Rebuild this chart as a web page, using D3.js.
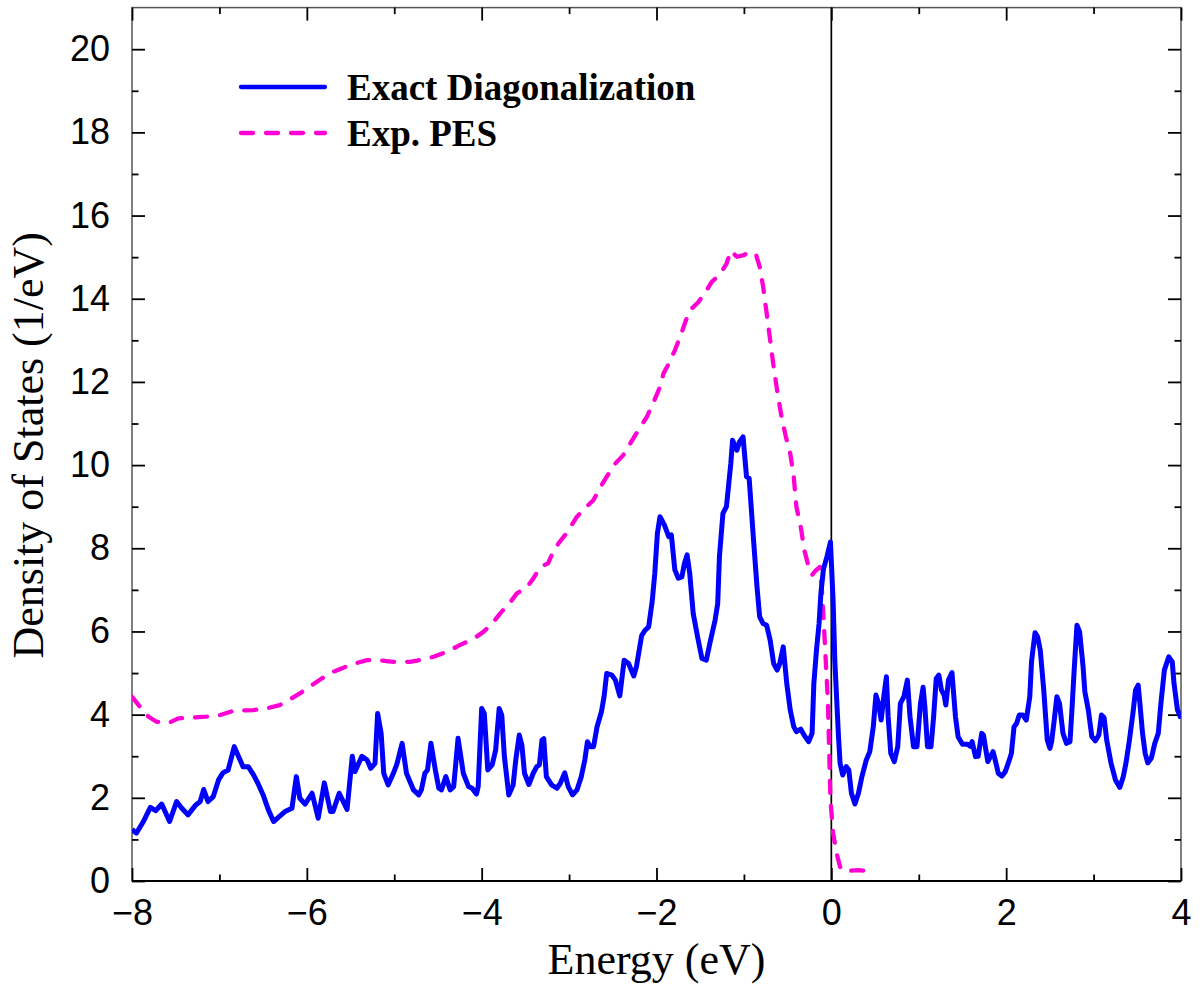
<!DOCTYPE html>
<html>
<head>
<meta charset="utf-8">
<script src="https://cdn.jsdelivr.net/npm/d3@7"></script>
<style>
  html, body { margin: 0; padding: 0; background: #fff; }
  svg { display: block; }
</style>
</head>
<body>
<script>
// Density of states: exact diagonalization vs. photoemission (PES)

// Exact diagonalization curve
const edEnergy = [
  -8.00,-7.95,-7.87,-7.79,-7.73,-7.66,-7.57,-7.49,-7.43,-7.36,-7.27,-7.22,-7.18,-7.13,-7.07,-7.01,
  -6.96,-6.90,-6.83,-6.78,-6.73,-6.67,-6.61,-6.56,-6.50,-6.44,-6.38,-6.31,-6.25,-6.17,-6.12,-6.08,
  -6.02,-5.94,-5.87,-5.80,-5.73,-5.70,-5.63,-5.54,-5.48,-5.45,-5.37,-5.31,-5.27,-5.22,-5.19,-5.15,
  -5.12,-5.07,-5.01,-4.97,-4.91,-4.86,-4.78,-4.72,-4.69,-4.65,-4.62,-4.58,-4.53,-4.49,-4.46,-4.41,
  -4.36,-4.32,-4.27,-4.21,-4.15,-4.11,-4.06,-4.04,-4.00,-3.97,-3.93,-3.88,-3.84,-3.80,-3.77,-3.74,
  -3.69,-3.64,-3.61,-3.57,-3.54,-3.51,-3.46,-3.41,-3.37,-3.34,-3.31,-3.29,-3.26,-3.20,-3.14,-3.10,
  -3.05,-3.01,-2.96,-2.91,-2.86,-2.82,-2.79,-2.76,-2.72,-2.68,-2.63,-2.60,-2.57,-2.51,-2.47,-2.42,
  -2.37,-2.32,-2.26,-2.23,-2.17,-2.13,-2.09,-2.05,-2.02,-1.99,-1.96,-1.91,-1.86,-1.83,-1.79,-1.75,
  -1.71,-1.68,-1.65,-1.62,-1.58,-1.53,-1.48,-1.43,-1.39,-1.33,-1.30,-1.28,-1.24,-1.20,-1.15,-1.13,
  -1.08,-1.05,-1.01,-0.97,-0.94,-0.89,-0.85,-0.82,-0.78,-0.74,-0.70,-0.66,-0.62,-0.59,-0.55,-0.51,
  -0.47,-0.43,-0.40,-0.35,-0.30,-0.26,-0.22,-0.20,-0.17,-0.14,-0.12,-0.09,-0.05,-0.01, 0.02, 0.04,
   0.08, 0.10, 0.13, 0.17, 0.20, 0.23, 0.27, 0.31, 0.35, 0.40, 0.44, 0.48, 0.51, 0.54, 0.57, 0.60,
   0.63, 0.65, 0.68, 0.72, 0.76, 0.79, 0.83, 0.87, 0.90, 0.94, 0.98, 1.02, 1.05, 1.07, 1.10, 1.14,
   1.17, 1.20, 1.23, 1.26, 1.29, 1.31, 1.34, 1.38, 1.42, 1.45, 1.50, 1.56, 1.59, 1.61, 1.65, 1.68,
   1.72, 1.74, 1.79, 1.82, 1.85, 1.87, 1.91, 1.95, 1.99, 2.03, 2.06, 2.09, 2.12, 2.15, 2.19, 2.23,
   2.27, 2.29, 2.33, 2.36, 2.39, 2.43, 2.47, 2.50, 2.52, 2.55, 2.58, 2.61, 2.65, 2.69, 2.73, 2.75,
   2.78, 2.81, 2.84, 2.88, 2.90, 2.94, 2.98, 3.02, 3.06, 3.09, 3.12, 3.15, 3.20, 3.25, 3.30, 3.34,
   3.37, 3.41, 3.45, 3.48, 3.51, 3.53, 3.56, 3.59, 3.62, 3.66, 3.70, 3.74, 3.77, 3.81, 3.86, 3.90,
   3.92, 3.96, 4.00
];
const edDos = [
  1.24,1.15,1.43,1.77,1.69,1.85,1.43,1.91,1.75,1.59,1.83,1.91,2.20,1.91,2.03,2.43,
  2.60,2.67,3.23,2.99,2.75,2.75,2.55,2.35,2.07,1.71,1.43,1.56,1.67,1.75,2.51,1.99,
  1.85,2.11,1.51,2.36,1.67,1.67,2.11,1.72,3.00,2.63,3.00,2.91,2.71,2.83,4.03,3.55,
  2.59,2.31,2.59,2.81,3.31,2.59,2.19,2.07,2.19,2.59,2.67,3.31,2.67,2.23,2.19,2.51,
  2.19,2.27,3.43,2.59,2.27,2.23,2.09,2.27,4.15,4.03,2.67,2.79,3.15,4.15,3.99,2.99,
  2.07,2.31,2.91,3.51,3.27,2.59,2.32,2.59,2.75,2.79,3.39,3.42,2.51,2.31,2.23,2.35,
  2.60,2.27,2.07,2.19,2.51,2.91,3.35,3.23,3.23,3.71,4.07,4.43,4.99,4.95,4.83,4.45,
  5.31,5.23,4.93,5.15,5.90,6.03,6.11,6.71,7.39,8.35,8.76,8.56,8.28,8.32,7.48,7.28,
  7.31,7.64,7.84,7.40,6.43,5.87,5.35,5.31,5.71,6.27,6.67,7.80,8.84,9.00,10.04,10.60,
  10.36,10.56,10.68,9.72,9.68,8.20,7.07,6.35,6.19,6.15,5.79,5.23,5.07,5.23,5.63,4.75,
  4.11,3.71,3.59,3.65,3.47,3.35,3.55,4.75,5.55,6.20,6.90,7.50,7.80,8.15,6.75,5.30,
  3.55,2.83,2.55,2.75,2.67,2.11,1.85,2.11,2.51,2.91,3.11,3.71,4.47,4.27,3.87,4.43,
  4.91,3.95,3.07,2.87,3.23,4.27,4.43,4.83,3.95,3.23,3.23,4.27,4.66,4.19,3.23,3.23,
  3.95,4.87,4.95,4.59,4.47,4.23,4.83,5.01,3.95,3.47,3.29,3.29,3.24,3.35,2.99,3.00,
  3.55,3.51,2.87,2.99,3.11,2.95,2.59,2.52,2.63,2.87,3.07,3.71,3.79,3.99,3.99,3.87,
  4.43,5.27,5.97,5.87,5.55,4.59,3.39,3.19,3.35,3.87,4.43,4.27,3.55,3.31,3.35,4.03,
  5.15,6.15,5.99,5.15,4.55,4.11,3.47,3.37,3.51,3.99,3.93,3.39,2.83,2.43,2.25,2.51,
  2.83,3.39,4.03,4.59,4.71,4.27,3.55,3.07,2.84,2.95,3.31,3.55,4.27,5.07,5.39,5.27,
  4.75,4.11,3.91
];

// Experimental PES curve
const pesEnergy = [
  -8.00,-7.91,-7.81,-7.72,-7.58,-7.47,-7.30,-7.15,-6.99,-6.84,-6.61,-6.46,-6.31,-6.19,-6.08,-5.94,
  -5.83,-5.70,-5.47,-5.31,-5.18,-5.01,-4.82,-4.74,-4.55,-4.40,-4.25,-4.09,-3.98,-3.88,-3.79,-3.67,
  -3.60,-3.48,-3.41,-3.33,-3.24,-3.18,-3.12,-3.03,-2.91,-2.80,-2.72,-2.65,-2.57,-2.47,-2.38,-2.30,
  -2.23,-2.11,-2.04,-1.96,-1.92,-1.86,-1.79,-1.73,-1.67,-1.62,-1.52,-1.44,-1.37,-1.27,-1.20,-1.15,
  -1.08,-1.00,-0.94,-0.86,-0.82,-0.78,-0.74,-0.70,-0.66,-0.62,-0.57,-0.52,-0.47,-0.43,-0.40,-0.35,
  -0.31,-0.27,-0.22,-0.18,-0.13,-0.11,-0.09,-0.07,-0.05,-0.04,-0.025,-0.01,0.02,0.06,0.10,0.16,
   0.23, 0.31, 0.37, 0.41
];
const pesDos = [
  4.43,4.19,3.95,3.83,3.80,3.91,3.93,3.95,3.99,4.09,4.11,4.15,4.23,4.37,4.51,4.71,
  4.87,5.03,5.22,5.31,5.31,5.27,5.27,5.30,5.39,5.51,5.67,5.83,5.99,6.19,6.43,6.71,
  6.91,7.07,7.27,7.55,7.64,7.92,8.12,8.36,8.76,9.00,9.16,9.44,9.72,10.04,10.24,10.52,
  10.76,11.16,11.48,11.88,12.20,12.44,12.76,13.08,13.44,13.72,13.92,14.16,14.40,14.60,14.84,15.15,
  15.01,15.05,15.13,15.05,14.77,14.29,13.65,13.01,12.36,11.80,11.16,10.68,10.28,9.72,9.00,8.52,
  7.96,7.64,7.36,7.46,7.55,7.07,6.35,5.55,4.75,4.35,3.15,1.95,1.15,0.67,0.34,0.22,
  0.25,0.26,0.25,0.20
];

const xMajorTicks = [-8, -6, -4, -2, 0, 2, 4];
const xMinorTicks = [-7, -5, -3, -1, 1, 3];
const yMajorTicks = [0, 2, 4, 6, 8, 10, 12, 14, 16, 18, 20];
const yMinorTicks = [1, 3, 5, 7, 9, 11, 13, 15, 17, 19];

const seriesNames = ["Exact Diagonalization", "Exp. PES"];
const seriesColors = ["#0000ff", "#ff00d4"];

const W = 1202, H = 989;
const margin = { left: 132, right: 21, top: 7.6, bottom: 108 };
const pw = W - margin.left - margin.right;
const ph = H - margin.top - margin.bottom;

const svg = d3.select("body").append("svg")
  .attr("width", W).attr("height", H);

const x = d3.scaleLinear().domain([-8, 4]).range([margin.left, margin.left + pw]);
const y = d3.scaleLinear().domain([0, 21]).range([margin.top + ph, margin.top]);

const tickFont = "'Liberation Sans', Arial, Helvetica, sans-serif";
const serifFont = "'Liberation Serif', 'Times New Roman', Times, serif";

svg.append("defs").append("clipPath").attr("id", "plot-clip")
  .append("rect")
  .attr("x", margin.left).attr("y", margin.top)
  .attr("width", pw).attr("height", ph);

// frame
svg.append("rect")
  .attr("x", margin.left).attr("y", margin.top)
  .attr("width", pw).attr("height", ph)
  .attr("fill", "none").attr("stroke", "#555").attr("stroke-width", 1.5);
svg.append("line")
  .attr("x1", margin.left).attr("x2", margin.left + pw)
  .attr("y1", y(0)).attr("y2", y(0))
  .attr("stroke", "#000").attr("stroke-width", 2);

function styleAxis(g, showLabels) {
  g.select(".domain").remove();
  g.selectAll(".tick line").attr("stroke", "#000").attr("stroke-width", 1.8);
  if (!showLabels) g.selectAll(".tick text").remove();
  g.selectAll(".tick text")
    .attr("fill", "#000")
    .style("font-family", tickFont)
    .style("font-size", "36px");
}

// x axes (bottom labelled, top mirrored)
svg.append("g").attr("transform", `translate(0,${y(0)})`)
  .call(d3.axisBottom(x).tickValues(xMajorTicks).tickSize(-13).tickPadding(18))
  .call(g => styleAxis(g, true));
svg.append("g").attr("transform", `translate(0,${y(0)})`)
  .call(d3.axisBottom(x).tickValues(xMinorTicks).tickSize(-6.5))
  .call(g => styleAxis(g, false));
svg.append("g").attr("transform", `translate(0,${margin.top})`)
  .call(d3.axisTop(x).tickValues(xMajorTicks).tickSize(-13))
  .call(g => styleAxis(g, false));
svg.append("g").attr("transform", `translate(0,${margin.top})`)
  .call(d3.axisTop(x).tickValues(xMinorTicks).tickSize(-6.5))
  .call(g => styleAxis(g, false));

// y axes (left labelled, right mirrored)
svg.append("g").attr("transform", `translate(${margin.left},0)`)
  .call(d3.axisLeft(y).tickValues(yMajorTicks).tickSize(-13).tickPadding(22))
  .call(g => styleAxis(g, true));
svg.append("g").attr("transform", `translate(${margin.left},0)`)
  .call(d3.axisLeft(y).tickValues(yMinorTicks).tickSize(-6.5))
  .call(g => styleAxis(g, false));
svg.append("g").attr("transform", `translate(${margin.left + pw},0)`)
  .call(d3.axisRight(y).tickValues(yMajorTicks).tickSize(-13))
  .call(g => styleAxis(g, false));
svg.append("g").attr("transform", `translate(${margin.left + pw},0)`)
  .call(d3.axisRight(y).tickValues(yMinorTicks).tickSize(-6.5))
  .call(g => styleAxis(g, false));

// Fermi level marker at E = 0
svg.append("line")
  .attr("x1", x(0)).attr("x2", x(0))
  .attr("y1", y(21)).attr("y2", y(0))
  .attr("stroke", "#000").attr("stroke-width", 1.7);

const line = d3.line().x(d => x(d[0])).y(d => y(d[1]));
const plot = svg.append("g").attr("clip-path", "url(#plot-clip)");

const pesData = pesEnergy.map((e, i) => [e, pesDos[i]]);
const edData = edEnergy.map((e, i) => [e, edDos[i]]);

plot.append("path").datum(pesData)
  .attr("d", line)
  .attr("fill", "none")
  .attr("stroke", seriesColors[1])
  .attr("stroke-width", 4.3)
  .attr("stroke-linecap", "round")
  .attr("stroke-linejoin", "round")
  .attr("stroke-dasharray", "12,13");

plot.append("path").datum(edData)
  .attr("d", line)
  .attr("fill", "none")
  .attr("stroke", seriesColors[0])
  .attr("stroke-width", 5)
  .attr("stroke-linejoin", "round");

// legend
const legend = svg.append("g");
const legendRows = [87, 133];
seriesNames.forEach((name, i) => {
  legend.append("line")
    .attr("x1", 241).attr("x2", 325)
    .attr("y1", legendRows[i]).attr("y2", legendRows[i])
    .attr("stroke", seriesColors[i])
    .attr("stroke-width", 4.3)
    .attr("stroke-linecap", "round")
    .attr("stroke-dasharray", i === 1 ? "12,13" : null);
  legend.append("text")
    .attr("x", 347).attr("y", legendRows[i] + 12.5)
    .style("font-family", serifFont)
    .style("font-weight", "bold")
    .style("font-size", "37px")
    .text(name);
});

// axis titles
svg.append("text")
  .attr("x", x(-2)).attr("y", 974)
  .attr("text-anchor", "middle")
  .style("font-family", serifFont)
  .style("font-size", "44px")
  .text("Energy (eV)");

svg.append("text")
  .attr("transform", `translate(43,${y(10.5) + 1}) rotate(-90)`)
  .attr("text-anchor", "middle")
  .style("font-family", serifFont)
  .style("font-size", "44px")
  .text("Density of States (1/eV)");
</script>
</body>
</html>
